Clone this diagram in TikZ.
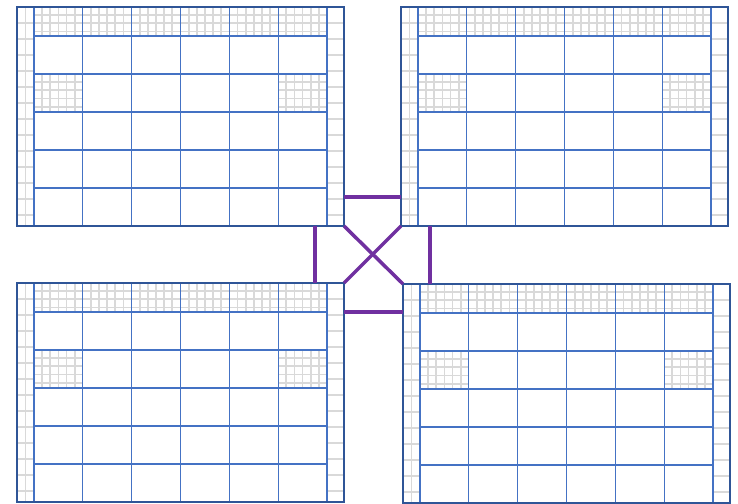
\documentclass[tikz,border=0pt]{standalone}
\definecolor{bordc}{HTML}{2F5597}
\definecolor{innc}{HTML}{4472C4}
\definecolor{grayc}{HTML}{D9D9D9}
\definecolor{purp}{HTML}{7030A0}
\tikzset{
  panelbox/.style={draw=bordc, line width=2pt, minimum width=327pt, minimum height=219pt, inner sep=0pt, outer sep=0pt},
  finegrid/.style={draw=grayc, line width=1.8pt},
  cellline/.style={draw=innc, line width=1.2pt},
  link/.style={draw=purp, line width=3.5pt},
}
\newcommand\smallcell[4]{%
  \foreach \i in {1,...,5}{\draw[finegrid] ({#1+\i*#3/6},#2) -- ({#1+\i*#3/6},{#2+#4});}
  \foreach \j in {8.2,16.4,...,#4}{\draw[finegrid] (#1,{#2+\j}) -- ({#1+#3},{#2+\j});}
}
\newcommand\drawpanel[2]{%
  \begin{scope}[shift={(#1,#2)}, yscale=-1]
    \draw[finegrid] (8.5,0) -- (8.5,219);
    \foreach \j in {16,32,...,208}{\draw[finegrid] (0,\j) -- (17,\j); \draw[finegrid] (310,\j) -- (327,\j);}
    \foreach \k in {0,...,5}{\smallcell{17+\k*48.8333}{0}{48.8333}{29}}
    \smallcell{17}{67}{48.8333}{38}
    \smallcell{261.1667}{67}{48.8333}{38}
    \foreach \k in {0,...,6}{\draw[cellline] ({17+\k*48.8333},0) -- ({17+\k*48.8333},219);}
    \foreach \j in {29,67,105,143,181}{\draw[cellline] (17,\j) -- (310,\j);}
  \end{scope}
}
\begin{document}
\begin{tikzpicture}[x=1pt,y=1pt]
\useasboundingbox (0,0) rectangle (738,503);
\fill[white] (0,0) rectangle (738,503);
\drawpanel{17}{496}
\drawpanel{401}{496}
\drawpanel{17}{220}
\drawpanel{403}{219}
\node[panelbox] (tl) at (180.5,386.5) {};
\node[panelbox] (tr) at (564.5,386.5) {};
\node[panelbox] (bl) at (180.5,110.5) {};
\node[panelbox] (br) at (566.5,109.5) {};
\coordinate (h1) at ([yshift=29pt]tl.south east);
\coordinate (h2) at ([yshift=-29pt]bl.north east);
\coordinate (v1) at ([xshift=-29pt]tl.south east);
\coordinate (v2) at ([xshift=29pt]tr.south west);
\draw[link] (h1) -- (h1 -| tr.west);
\draw[link] (h2) -- (h2 -| br.west);
\draw[link] (v1) -- (v1 |- bl.north);
\draw[link] (v2) -- (v2 |- br.north);
\draw[link] (tl.south east) -- (br.north west);
\draw[link] (tr.south west) -- (bl.north east);
\end{tikzpicture}
\end{document}
